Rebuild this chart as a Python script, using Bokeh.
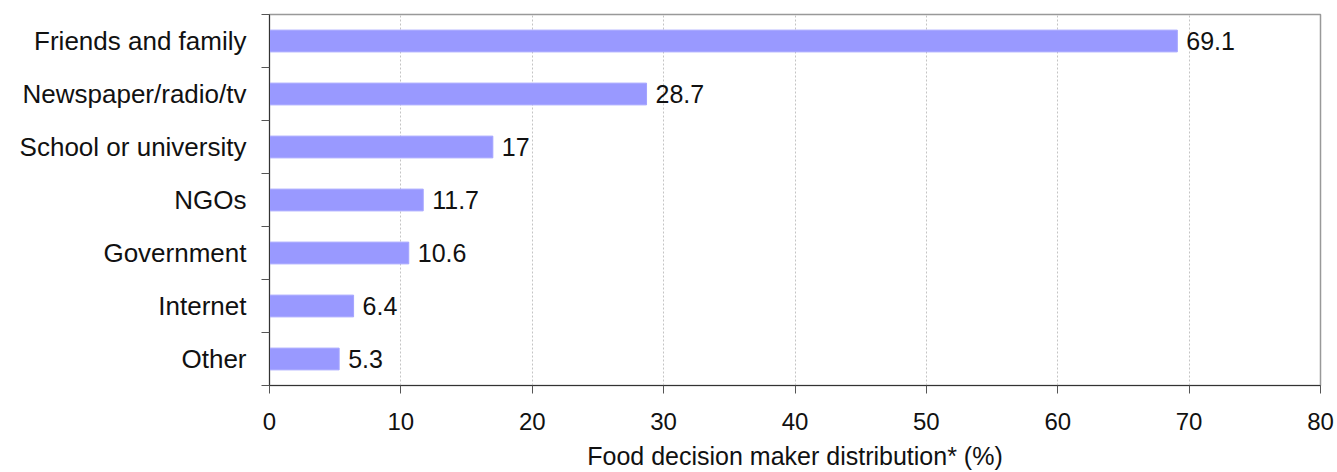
from bokeh.plotting import figure
from bokeh.models import ColumnDataSource, Range1d, FixedTicker
from bokeh.core.properties import value
from bokeh.embed import file_html
from bokeh.resources import INLINE

categories = ["Friends and family", "Newspaper/radio/tv", "School or university",
              "NGOs", "Government", "Internet", "Other"]
values = [69.1, 28.7, 17, 11.7, 10.6, 6.4, 5.3]
x_ticks = [0, 10, 20, 30, 40, 50, 60, 70, 80]
x_title = "Food decision maker distribution* (%)"

n = len(categories)
pos = [n - i - 0.5 for i in range(n)]
labels = [f"{v:g}" for v in values]

src = ColumnDataSource(dict(cat=categories, val=values, y=pos, lab=labels))

FONT = "Liberation Sans"

p = figure(width=1337, height=472, output_backend="svg", toolbar_location=None,
           x_range=Range1d(0, 80), y_range=Range1d(0, n),
           min_border_left=269, min_border_right=17, min_border_top=14,
           min_border_bottom=86)

p.hbar(y="y", right="val", left=0, height=0.41, source=src,
       fill_color="#9999ff", line_color="#a3a3ff", line_width=1)

p.text(x="val", y="y", text="lab", source=src, x_offset=9,
       text_baseline="middle", text_align="left",
       text_font=value(FONT), text_font_size="25px", text_color="#111111")

# x axis
p.xaxis.ticker = FixedTicker(ticks=x_ticks)
p.xaxis.axis_label = x_title
p.xaxis.axis_label_text_font = FONT
p.xaxis.axis_label_text_font_size = "25px"
p.xaxis.axis_label_text_font_style = "normal"
p.xaxis.axis_label_text_color = "#111111"
p.xaxis.axis_label_standoff = 9
p.xaxis.major_label_text_font = FONT
p.xaxis.major_label_text_font_size = "24px"
p.xaxis.major_label_text_color = "#111111"
p.xaxis.major_label_standoff = 19
p.xaxis.major_tick_in = 0
p.xaxis.major_tick_out = 8
p.xaxis.minor_tick_line_color = None
p.xaxis.axis_line_color = "#333333"
p.xaxis.major_tick_line_color = "#555555"

# y axis: labels at centres, ticks at category boundaries
p.yaxis.ticker = FixedTicker(ticks=pos, minor_ticks=list(range(n + 1)))
p.yaxis.major_label_overrides = {y: c for y, c in zip(pos, categories)}
p.yaxis.major_label_text_font = FONT
p.yaxis.major_label_text_font_size = "26px"
p.yaxis.major_label_text_color = "#111111"
p.yaxis.major_label_standoff = 15
p.yaxis.major_tick_in = 0
p.yaxis.major_tick_out = 0
p.yaxis.major_tick_line_color = None
p.yaxis.minor_tick_in = 0
p.yaxis.minor_tick_out = 8
p.yaxis.minor_tick_line_color = "#555555"
p.yaxis.axis_line_color = "#333333"

p.xgrid.ticker = FixedTicker(ticks=x_ticks[1:-1])
p.xgrid.grid_line_color = "#c4c4c4"
p.xgrid.grid_line_dash = "2 2"
p.ygrid.grid_line_color = None

p.outline_line_color = "#999999"
p.outline_line_width = 1.5
p.background_fill_color = "white"
p.border_fill_color = "white"

open("out.html", "w").write(file_html(p, INLINE))
